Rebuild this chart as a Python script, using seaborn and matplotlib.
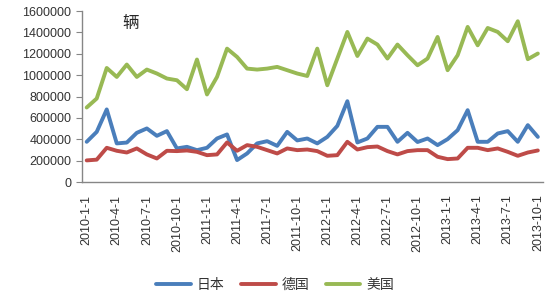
import numpy as np
import pandas as pd
import seaborn as sns
import matplotlib.pyplot as plt

# monthly sales, 2010-1 .. 2013-10 (units: vehicles)
months = [f"{y}-{m}-1" for y in range(2010, 2014) for m in range(1, 13)][:46]

japan = [377, 470, 680, 362, 370, 461, 502, 433, 477, 315, 330, 299,
         321, 408, 446, 206, 268, 362, 383, 339, 470, 390, 408, 362,
         423, 526, 757, 371, 408, 517, 517, 377, 461, 375, 408, 346,
         402, 486, 673, 377, 377, 455, 477, 377, 533, 423]
germany = [203, 210, 321, 293, 277, 315, 259, 221, 293, 290, 296, 283,
           252, 259, 371, 293, 346, 330, 299, 268, 315, 299, 305, 290,
           246, 252, 377, 305, 327, 333, 290, 259, 290, 299, 299, 237,
           215, 221, 321, 321, 299, 315, 283, 246, 277, 296]
usa = [698, 782, 1068, 984, 1100, 984, 1053, 1016, 969, 953, 869, 1147,
       820, 984, 1249, 1171, 1062, 1053, 1062, 1078, 1047, 1016, 993, 1249,
       906, 1156, 1405, 1180, 1343, 1287, 1156, 1287, 1187, 1093, 1156, 1358,
       1047, 1187, 1452, 1280, 1442, 1405, 1318, 1505, 1150, 1203]

series = ['日本', '德国', '美国']
colors = ['#4a7ebb', '#be4b48', '#98b954']

idx = np.arange(len(months))
df = pd.DataFrame({
    'idx': np.concatenate([idx, idx, idx]),
    'value': np.array(japan + germany + usa) * 1000,
    'country': np.repeat(series, len(months)),
})

sns.set_style('white')
plt.rcParams['font.family'] = ['Liberation Sans', 'Noto Sans CJK SC']

fig = plt.figure(figsize=(5.5, 3), dpi=100)
ax = fig.add_axes([0.1485, 0.393, 0.8385, 0.57])

sns.lineplot(data=df, x='idx', y='value', hue='country',
             palette=colors, linewidth=2.8, ax=ax)

ax.set_xlim(-0.5, len(months) - 0.5)
ax.set_ylim(0, 1600000)
ax.set_yticks(range(0, 1600001, 200000))
ax.set_yticklabels([str(v) for v in range(0, 1600001, 200000)], fontsize=9, color='#333333')

ax.set_xticks(idx[::3])
ax.set_xticklabels(months[::3], rotation=90, fontsize=9, color='#333333')
ax.set_xticks(np.arange(-0.5, len(months), 3), minor=True)
ax.tick_params(axis='x', which='major', length=0, pad=9)
ax.tick_params(axis='x', which='minor', length=4, color='#868686', direction='out')
ax.tick_params(axis='y', length=4, color='#868686', direction='out', left=True)

ax.set_xlabel('')
ax.set_ylabel('')
for s in ['top', 'right']:
    ax.spines[s].set_visible(False)
for s in ['left', 'bottom']:
    ax.spines[s].set_color('#868686')
    ax.spines[s].set_linewidth(1)

ax.text(0.088, 0.925, '辆', transform=ax.transAxes, fontsize=12, va='center')

sns.move_legend(ax, 'lower center', bbox_to_anchor=(0.5, -0.015),
                bbox_transform=fig.transFigure, ncol=3, frameon=False,
                title=None, fontsize=10, handlelength=2.5,
                handletextpad=0.4, columnspacing=1.2)
for t in ax.get_legend().get_texts():
    t.set_color('#333333')

fig.savefig('out.png', dpi=100)
